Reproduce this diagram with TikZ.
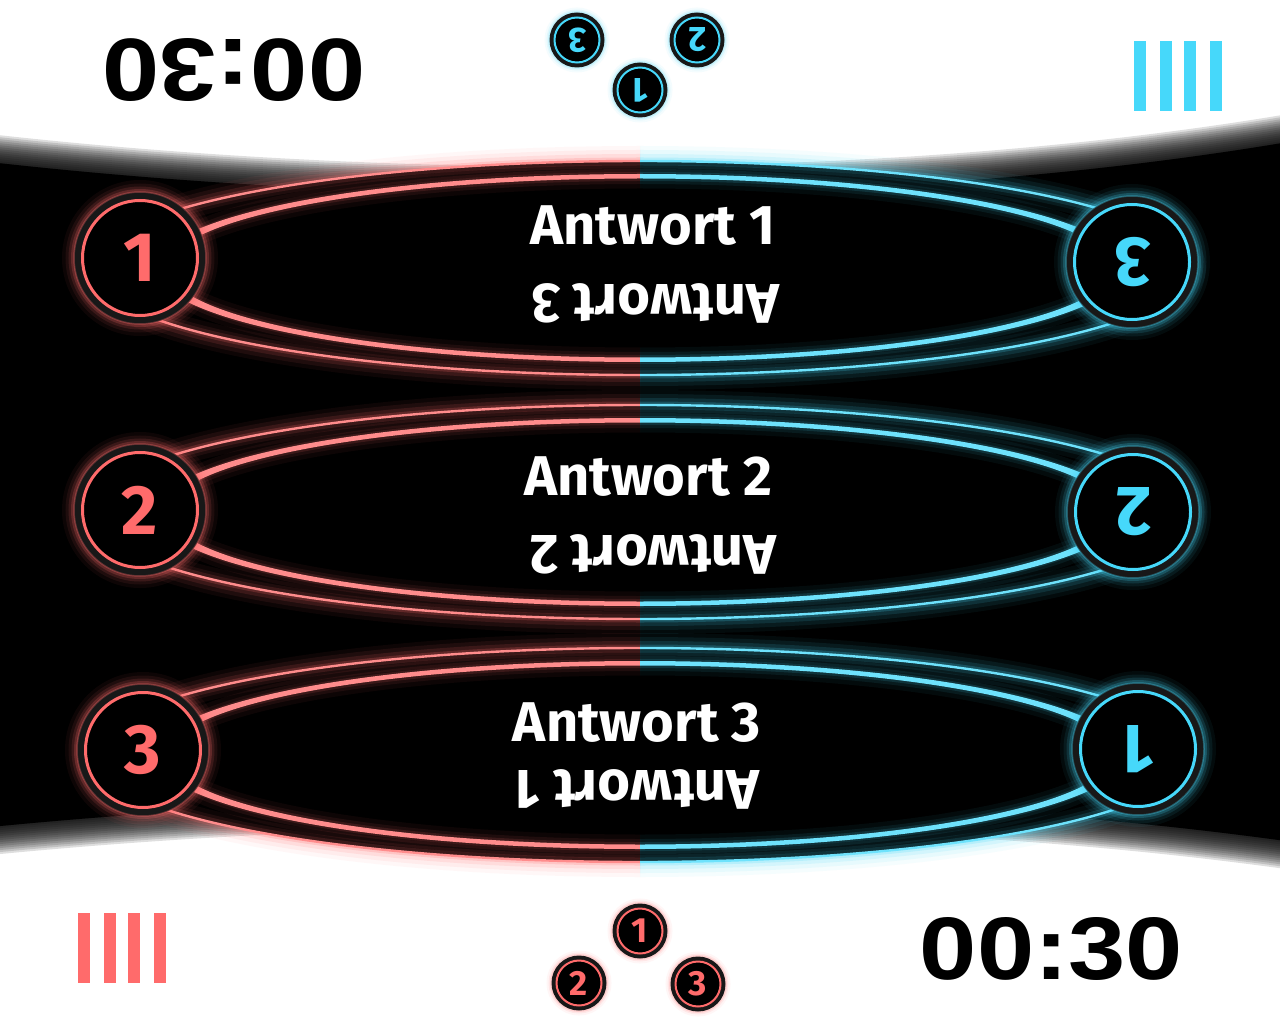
\documentclass[tikz,border=0pt]{standalone}
\usepackage{fontspec}
\setmainfont{Fira Sans}
\newfontfamily\timerfont{Liberation Sans}
\definecolor{pinkc}{RGB}{255,107,107}
\definecolor{cyanc}{RGB}{70,216,250}
\definecolor{pinkl}{RGB}{255,140,140}
\definecolor{cyanl}{RGB}{110,226,252}
\definecolor{ringgray}{RGB}{24,24,24}
\tikzset{
  answer/.style={text=white, font=\fontsize{56}{60}\selectfont\bfseries, inner sep=0pt, anchor=base},
  bigdisc/.style={circle, minimum size=115pt, inner sep=0pt, draw=#1, line width=3pt, fill=black, text=#1, font=\fontsize{70}{70}\selectfont\bfseries},
  smalldisc/.style={circle, minimum size=45pt, inner sep=0pt, draw=#1, line width=2pt, fill=black, text=#1, font=\fontsize{35}{35}\selectfont\bfseries},
  lifebar/.style={fill=#1, draw=none},
  timer/.style={inner sep=0pt, text=black},
}
% glowing disc: name, x, y, outer radius, colour, rotation, text, style
\newcommand\glowdisc[8]{%
  \foreach \w/\o in {24/0.05,17/0.08,11/0.13,6/0.2}{%
    \draw[color=#5, opacity=\o, line width=\w pt] (#2,#3) circle[radius=#4];}
  \fill[ringgray] (#2,#3) circle[radius=#4];
  \draw[color=#5, opacity=0.35, line width=1.5pt] (#2,#3) circle[radius=#4];
  \node[#8=#5, rotate=#6] (#1) at (#2,#3) {#7};
}
\newcommand\smallglowdisc[7]{%
  \foreach \w/\o in {10/0.06,6/0.1,3/0.18}{%
    \draw[color=#5, opacity=\o, line width=\w pt] (#2,#3) circle[radius=#4];}
  \fill[ringgray] (#2,#3) circle[radius=#4];
  \node[smalldisc=#5, rotate=#6] (#1) at (#2,#3) {#7};
}
% answer band centred at y = #1
\newcommand\answerband[1]{%
  \begin{scope}[shift={(640,#1)}]
    \foreach \side/\col in {-1/pinkc, 1/cyanc}{%
      \begin{scope}
        \clip (0,-170) rectangle (\side*720,170);
        \foreach \w/\o in {30/0.05,22/0.08,14/0.12,7/0.2}{%
          \draw[color=\col, opacity=\o, line width=\w pt] (0,0) ellipse[x radius=551, y radius=107];}
      \end{scope}}
    \fill[black] (0,0) ellipse[x radius=551, y radius=107];
    \foreach \side/\col/\lcol in {-1/pinkc/pinkl, 1/cyanc/cyanl}{%
      \begin{scope}
        \clip (0,-170) rectangle (\side*720,170);
        \begin{scope}
          \clip (0,0) ellipse[x radius=551, y radius=107];
          \foreach \w/\o in {24/0.05,15/0.08,9/0.13}{%
            \draw[color=\col, opacity=\o, line width=\w pt] (0,0) ellipse[x radius=551, y radius=107];
            \draw[color=\col, opacity=\o, line width=\w pt] (0,0) ellipse[x radius=478, y radius=91.5];}
        \end{scope}
        \draw[color=\lcol, line width=2.4pt] (0,0) ellipse[x radius=551, y radius=107];
        \fill[color=\lcol, even odd rule] (0,0) ellipse[x radius=485, y radius=94] (0,0) ellipse[x radius=472, y radius=89.5];
      \end{scope}}
  \end{scope}}
\begin{document}
\begin{tikzpicture}[x=1pt, y=-1pt]
  \useasboundingbox (0,0) rectangle (1280,1024);
  \fill[white] (0,0) rectangle (1280,1024);
  % black play field with soft edges
  \foreach \d in {-14,-12,...,14}{%
    \fill[black, opacity=0.13] (-20,147+\d) .. controls (400,195+\d) and (900,195+\d) .. (1300,126+\d)
      -- (1300,857-\d) .. controls (900,800-\d) and (400,800-\d) .. (-20,842-\d) -- cycle;}
  \fill[black] (-20,161) .. controls (400,209) and (900,209) .. (1300,140)
      -- (1300,843) .. controls (900,786) and (400,786) .. (-20,828) -- cycle;
  % answer bands
  \answerband{268}
  \answerband{512}
  \answerband{755}
  % answers
  \node[answer] (a1) at (653,245) {Antwort 1};
  \node[answer, rotate=180] (a1r) at (655,285) {Antwort 3};
  \node[answer] (a2) at (648,495) {Antwort 2};
  \node[answer, rotate=180] (a2r) at (653,535) {Antwort 2};
  \node[answer] (a3) at (637,741) {Antwort 3};
  \node[answer, rotate=180] (a3r) at (637,770) {Antwort 1};
  % big number discs
  \glowdisc{L1}{140}{258}{66}{pinkc}{0}{1}{bigdisc}
  \glowdisc{L2}{140}{510}{66}{pinkc}{0}{2}{bigdisc}
  \glowdisc{L3}{143}{750}{66}{pinkc}{0}{3}{bigdisc}
  \glowdisc{R1}{1132}{262}{66}{cyanc}{180}{3}{bigdisc}
  \glowdisc{R2}{1133}{512}{66}{cyanc}{180}{2}{bigdisc}
  \glowdisc{R3}{1138}{749}{66}{cyanc}{180}{1}{bigdisc}
  % small discs
  \smallglowdisc{s3t}{577}{40}{27.5}{cyanc}{180}{3}
  \smallglowdisc{s2t}{697}{40}{27.5}{cyanc}{180}{2}
  \smallglowdisc{s1t}{640}{90}{27.5}{cyanc}{180}{1}
  \smallglowdisc{s1b}{640}{931}{27.5}{pinkc}{0}{1}
  \smallglowdisc{s2b}{579}{983}{27.5}{pinkc}{0}{2}
  \smallglowdisc{s3b}{698}{984}{27.5}{pinkc}{0}{3}
  % life bars
  \foreach \x in {1134,1160,1184,1210}{\fill[lifebar=cyanc] (\x,41) rectangle (\x+12,111);}
  \foreach \x in {78,104,128,154}{\fill[lifebar=pinkc] (\x,913) rectangle (\x+12,983);}
  % timers
  \node[timer, rotate=180] (t1) at (233.5,70.5) {\resizebox{263pt}{62pt}{\timerfont\bfseries 00:30}};
  \node[timer] (t2) at (1051.5,949) {\resizebox{263pt}{62pt}{\timerfont\bfseries 00:30}};
\end{tikzpicture}
\end{document}
